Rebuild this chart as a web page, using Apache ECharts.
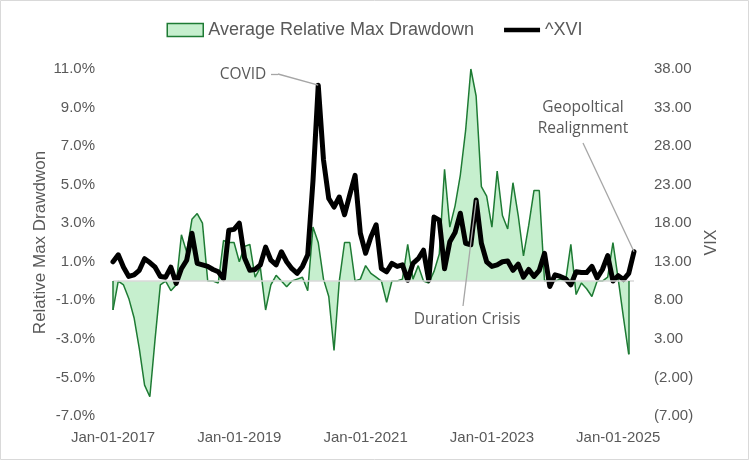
<!DOCTYPE html>
<html>
<head>
<meta charset="utf-8">
<script src="https://cdn.jsdelivr.net/npm/echarts@6/dist/echarts.min.js"></script>
<style>
  html, body { margin: 0; padding: 0; background: #fff; }
  #chart { width: 749px; height: 460px; }
</style>
</head>
<body>
<div id="chart"></div>
<script>
  // monthly points, Jan 2017 .. Apr 2025
  var MONTHS = ['Jan', 'Feb', 'Mar', 'Apr', 'May', 'Jun', 'Jul', 'Aug', 'Sep', 'Oct', 'Nov', 'Dec'];
  var START_YEAR = 2017, N_POINTS = 100;

  var categories = [];
  for (var m = 0; m < N_POINTS; m++) {
    categories.push(MONTHS[m % 12] + '-01-' + (START_YEAR + Math.floor(m / 12)));
  }

  // Average Relative Max Drawdown, in %
  var drawdown = [
    -1.5, 0.0, -0.2, -0.9, -1.9, -3.5, -5.4, -6.0, -3.0, -0.2, 0.0, -0.5,
    -0.2, 2.4, 1.5, 3.2, 3.5, 3.0, 0.0, 0.0, -0.1, 2.1, 2.0, 2.0,
    1.0, 1.8, 1.9, 0.2, 0.7, -1.5, -0.2, 0.3, 0.0, -0.3, 0.0, 0.1,
    0.2, -0.5, 2.8, 2.0, 0.1, -0.8, -3.6, 0.0, 2.0, 2.0, 0.0, 0.1,
    0.8, 0.4, 0.2, 0.0, -1.1, 0.0, 0.0, 0.1, 1.9, 0.1, 0.8, 0.0,
    -0.1, 0.5, 1.4, 5.8, 2.8, 3.9, 5.5, 7.8, 11.0, 9.6, 4.9, 4.4,
    2.8, 5.7, 3.4, 2.7, 5.1, 3.4, 1.3, 2.9, 4.7, 4.7, 0.0, 0.1,
    0.0, 0.1, 0.0, 1.9, -0.7, -0.1, -0.4, -0.8, 0.0, 0.0, 0.2, 2.0,
    0.1, -1.9, -3.8, null
  ];

  // ^XVI
  var xvi = [
    13.0, 13.9, 12.3, 11.1, 11.3, 11.9, 13.4, 12.9, 12.3, 11.1, 11.0, 12.3,
    10.2, 12.1, 13.2, 16.7, 12.8, 12.6, 12.4, 12.0, 11.7, 10.8, 17.1, 17.2,
    18.0, 13.5, 11.9, 12.0, 12.6, 14.9, 13.2, 12.6, 14.3, 13.0, 12.1, 11.5,
    12.4, 13.9, 23.5, 35.9, 26.2, 21.2, 20.1, 21.4, 19.1, 21.7, 24.2, 16.7,
    14.1, 16.2, 17.8, 12.1, 11.7, 12.8, 12.4, 12.6, 10.6, 12.8, 13.4, 14.5,
    10.6, 18.8, 18.4, 12.1, 15.6, 16.8, 19.3, 15.4, 15.2, 21.0, 15.4, 13.0,
    12.4, 12.6, 13.0, 13.1, 11.9, 12.7, 11.0, 12.0, 11.1, 11.9, 14.1, 9.8,
    11.3, 11.1, 10.8, 10.0, 11.7, 11.6, 11.6, 12.4, 10.9, 12.0, 13.8, 10.5,
    11.2, 10.7, 11.5, 14.3
  ];

  var leftTicks = { min: -7, max: 11, interval: 2 };
  var rightTicks = { min: -7, max: 38, interval: 5 };

  // annotated points (index into categories)
  var covidIdx = 39, durationIdx = 69, geoIdx = 99;

  var GREY = '#595959';
  var FONT = '"Liberation Sans", Arial, sans-serif';
  var NOTE_FONT = '15.5px "Open Sans", sans-serif';

  var lastDd = 0;
  drawdown.forEach(function (v, i) { if (v !== null) lastDd = i; });

  var chart = echarts.init(document.getElementById('chart'));

  chart.setOption({
    animation: false,
    backgroundColor: '#fff',
    grid: { left: 113, right: 115, top: 69, bottom: 44, containLabel: false },
    legend: {
      top: 16,
      left: 'center',
      itemWidth: 36,
      itemHeight: 13,
      itemGap: 30,
      textStyle: { color: GREY, fontSize: 18, fontFamily: FONT },
      data: [
        { name: 'Average Relative Max Drawdown', icon: 'rect',
          itemStyle: { color: '#c6efce', borderColor: '#1e7b34', borderWidth: 1.5 } },
        { name: '^XVI', icon: 'path://M0,0 L40,0 L40,5 L0,5 Z',
          itemStyle: { color: '#000', borderWidth: 0 } }
      ]
    },
    xAxis: {
      type: 'category',
      data: categories,
      boundaryGap: false,
      axisLine: { show: false },
      axisTick: { show: false },
      splitLine: { show: false },
      axisLabel: {
        interval: function (idx) { return idx % 24 === 0; },
        margin: 14,
        color: GREY,
        fontSize: 15,
        fontFamily: FONT
      }
    },
    yAxis: [
      {
        type: 'value',
        min: leftTicks.min, max: leftTicks.max, interval: leftTicks.interval,
        name: 'Relative Max Drawdwon',
        nameLocation: 'middle',
        nameRotate: 90,
        nameGap: 64,
        nameMoveOverlap: false,
        nameTextStyle: { color: GREY, fontSize: 17, fontFamily: FONT },
        axisLine: { show: false },
        axisTick: { show: false },
        splitLine: { show: false },
        axisLabel: {
          margin: 18, color: GREY, fontSize: 15, fontFamily: FONT,
          formatter: function (v) { return v.toFixed(1) + '%'; }
        }
      },
      {
        type: 'value',
        position: 'right',
        min: rightTicks.min, max: rightTicks.max, interval: rightTicks.interval,
        name: 'VIX',
        nameLocation: 'middle',
        nameRotate: 90,
        nameGap: 66,
        nameTextStyle: { color: GREY, fontSize: 16, fontFamily: FONT },
        axisLine: { show: false },
        axisTick: { show: false },
        splitLine: { show: false },
        axisLabel: {
          margin: 20, color: GREY, fontSize: 15, fontFamily: FONT,
          formatter: function (v) {
            return v < 0 ? '(' + Math.abs(v).toFixed(2) + ')' : v.toFixed(2);
          }
        }
      }
    ],
    series: [
      {
        name: 'Average Relative Max Drawdown',
        type: 'line',
        yAxisIndex: 0,
        data: drawdown,
        symbol: 'none',
        lineStyle: { color: '#1e7b34', width: 1.5 },
        itemStyle: { color: '#c6efce', borderColor: '#1e7b34' },
        areaStyle: { color: '#c6efce', opacity: 1 },
        z: 2,
        markLine: {
          silent: true,
          symbol: 'none',
          label: { show: false },
          data: [
            { yAxis: 0, lineStyle: { color: '#d9d9d9', width: 1.5, type: 'solid' } },
            [
              { coord: [categories[0], 0], lineStyle: { color: '#1e7b34', width: 1.5, type: 'solid' } },
              { coord: [categories[0], drawdown[0]] }
            ],
            [
              { coord: [categories[lastDd], 0], lineStyle: { color: '#1e7b34', width: 1.5, type: 'solid' } },
              { coord: [categories[lastDd], drawdown[lastDd]] }
            ]
          ]
        }
      },
      {
        name: '^XVI',
        type: 'line',
        yAxisIndex: 1,
        data: xvi,
        symbol: 'none',
        lineStyle: { color: '#000', width: 5, join: 'round', cap: 'round' },
        itemStyle: { color: '#000' },
        z: 3,
        markLine: {
          silent: true,
          symbol: 'none',
          label: { show: false },
          lineStyle: { color: '#a6a6a6', width: 1.3, type: 'solid' },
          data: [
            [{ x: 271, y: 74 }, { x: 278, y: 74 }],
            [{ x: 278, y: 74 }, { coord: [categories[covidIdx], xvi[covidIdx]] }],
            [{ x: 463, y: 306 }, { coord: [categories[durationIdx], xvi[durationIdx]] }],
            [{ x: 583, y: 143 }, { coord: [categories[geoIdx], xvi[geoIdx]] }]
          ]
        }
      }
    ],
    graphic: [
      { type: 'rect', silent: true, z: -1,
        shape: { x: 0.5, y: 0.5, width: 748, height: 459 },
        style: { fill: 'none', stroke: '#d9d9d9', lineWidth: 1 } },
      { type: 'text', x: 243, y: 75, z: 10,
        style: { text: 'COVID', font: NOTE_FONT, fill: GREY, textAlign: 'center', textVerticalAlign: 'middle' } },
      { type: 'text', x: 467, y: 320, z: 10,
        style: { text: 'Duration Crisis', font: NOTE_FONT, fill: GREY, textAlign: 'center', textVerticalAlign: 'middle' } },
      { type: 'text', x: 583, y: 118, z: 10,
        style: { text: 'Geopoltical\nRealignment', font: NOTE_FONT, lineHeight: 21, fill: GREY, textAlign: 'center', textVerticalAlign: 'middle' } }
    ]
  });
</script>
</body>
</html>
